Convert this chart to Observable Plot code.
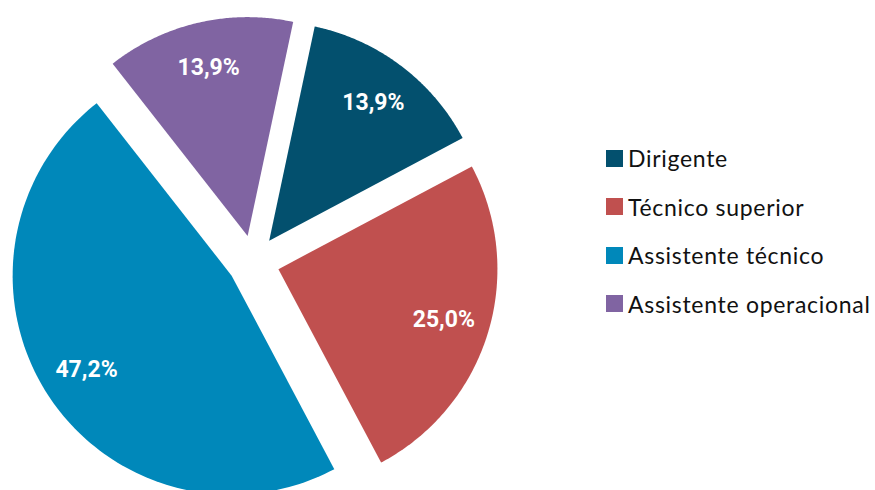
<!DOCTYPE html>
<html>
<head>
<meta charset="utf-8">
<script src="https://cdn.jsdelivr.net/npm/d3@7"></script>
<script src="https://cdn.jsdelivr.net/npm/@observablehq/plot@0.6"></script>
<style>
  html, body { margin: 0; padding: 0; background: #fff; }
  #wrap { display: flex; flex-direction: row; width: 875px; height: 490px; overflow: hidden; }
  #legend { padding-top: 134px; margin-left: 6px; font-family: Lato, "Open Sans", sans-serif; font-size: 23px; letter-spacing: 0.7px; color: #111; }
  .row { display: flex; align-items: center; height: 48.5px; white-space: nowrap; }
  .sw { width: 17px; height: 17px; margin-right: 5px; flex: none; }
</style>
</head>
<body>
<div id="wrap"><div id="chart"></div><div id="legend"></div></div>
<script>
const categories = ["Dirigente", "Técnico superior", "Assistente técnico", "Assistente operacional"];
const values = [13.9, 25.0, 47.2, 13.9];
const colors = ["#03506E", "#C0504F", "#0088BA", "#8064A2"];

// layout constants (in radius units)
const W = 600, H = 490, R = 219, cx = 253, cy = 261;
const explode = 0.119, labelR = 0.79;
const start = 12 * Math.PI / 180;

const data = categories.map((c, i) => ({cat: c, value: values[i]}));
const arcs = d3.pie().sort(null).value(d => d.value).startAngle(start).endAngle(start + 2 * Math.PI)(data);

const pts = [];
const labs = [];
for (const a of arcs) {
  const mid = (a.startAngle + a.endAngle) / 2;
  const ox = explode * Math.sin(mid), oy = explode * Math.cos(mid);
  pts.push({cat: a.data.cat, x: ox, y: oy});
  const n = 120;
  for (let k = 0; k <= n; k++) {
    const t = a.startAngle + (a.endAngle - a.startAngle) * k / n;
    pts.push({cat: a.data.cat, x: ox + Math.sin(t), y: oy + Math.cos(t)});
  }
  labs.push({
    x: ox + labelR * Math.sin(mid),
    y: oy + labelR * Math.cos(mid),
    text: a.data.value.toFixed(1).replace(".", ",") + "%"
  });
}

const chart = Plot.plot({
  width: W, height: H,
  margin: 0,
  x: {domain: [-cx / R, (W - cx) / R], axis: null},
  y: {domain: [-(H - cy) / R, cy / R], axis: null},
  color: {domain: categories, range: colors},
  marks: [
    Plot.line(pts, {x: "x", y: "y", z: "cat", fill: "cat", stroke: null, curve: "linear-closed"}),
    Plot.text(labs, {x: "x", y: "y", text: "text", fill: "white", fontSize: 23, fontWeight: "bold", fontFamily: "Roboto", letterSpacing: "0.3px"})
  ]
});
document.getElementById("chart").appendChild(chart);

const leg = document.getElementById("legend");
categories.forEach((c, i) => {
  const row = document.createElement("div");
  row.className = "row";
  const sw = document.createElement("div");
  sw.className = "sw";
  sw.style.background = colors[i];
  const t = document.createElement("span");
  t.textContent = c;
  row.appendChild(sw); row.appendChild(t);
  leg.appendChild(row);
});
</script>
</body>
</html>
